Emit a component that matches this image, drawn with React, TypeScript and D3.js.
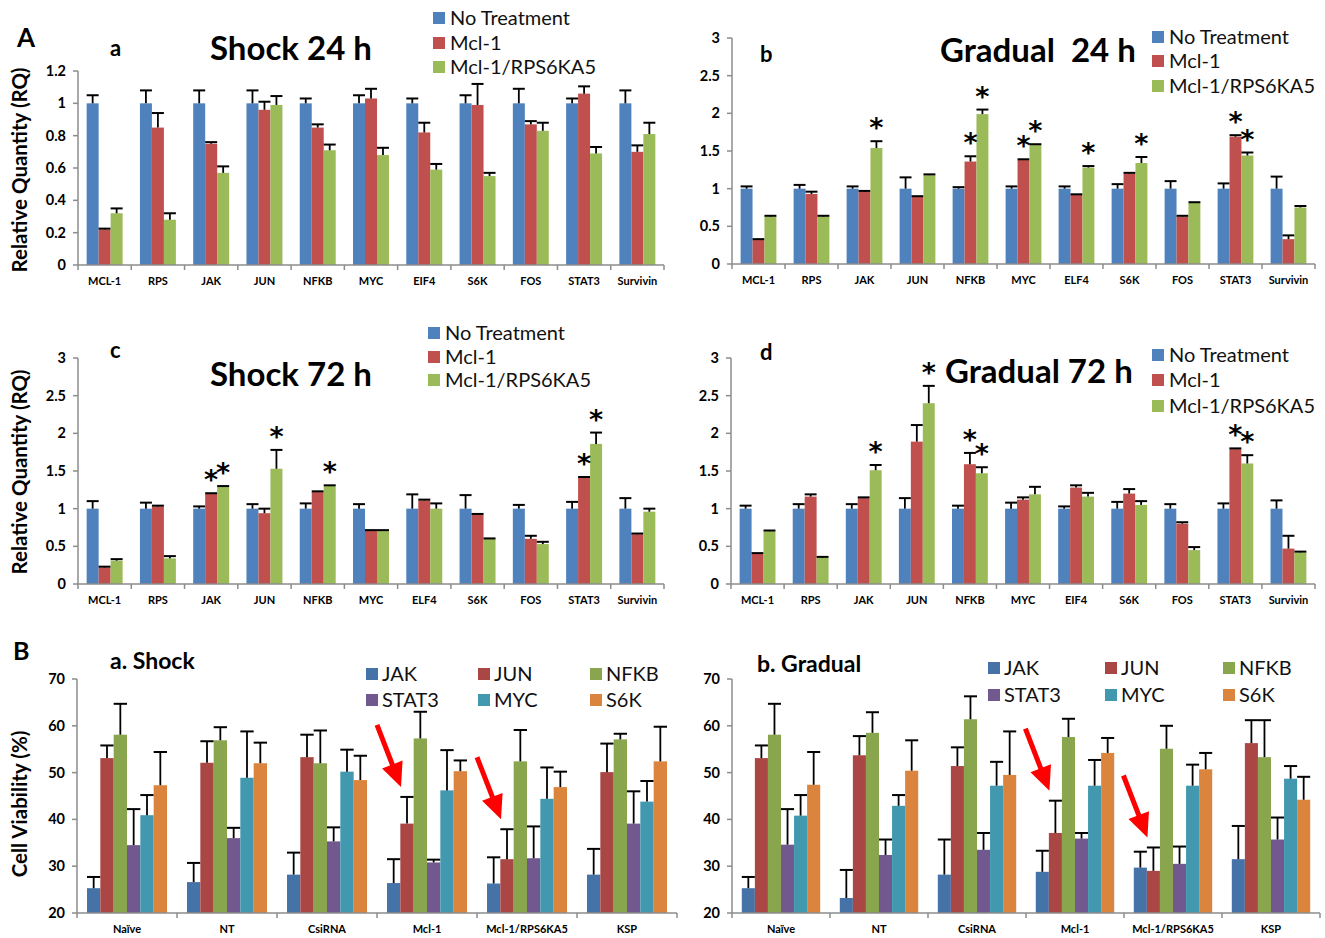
import * as d3 from 'd3';

const FONT = 'Lato, "Open Sans", sans-serif';

// ---- Part A: qPCR relative quantity ----
const genesA1 = ['MCL-1', 'RPS', 'JAK', 'JUN', 'NFKB', 'MYC', 'EIF4', 'S6K', 'FOS', 'STAT3', 'Survivin'];
const genesA2 = ['MCL-1', 'RPS', 'JAK', 'JUN', 'NFKB', 'MYC', 'ELF4', 'S6K', 'FOS', 'STAT3', 'Survivin'];
const treatments = ['No Treatment', 'Mcl-1', 'Mcl-1/RPS6KA5'];
const colorsA = ['#4F81BD', '#C0504D', '#9BBB59'];

const shock24NoTx = [1, 1, 1, 1, 1, 1, 1, 1, 1, 1, 1];
const shock24NoTxErr = [0.05, 0.08, 0.08, 0.08, 0.03, 0.05, 0.03, 0.05, 0.09, 0.03, 0.08];
const shock24Mcl1 = [0.22, 0.85, 0.75, 0.96, 0.85, 1.03, 0.82, 0.99, 0.87, 1.06, 0.7];
const shock24Mcl1Err = [0.005, 0.09, 0.01, 0.05, 0.02, 0.06, 0.06, 0.13, 0.02, 0.045, 0.04];
const shock24Rps = [0.32, 0.28, 0.57, 0.99, 0.71, 0.68, 0.59, 0.55, 0.83, 0.69, 0.81];
const shock24RpsErr = [0.03, 0.04, 0.04, 0.055, 0.035, 0.045, 0.035, 0.02, 0.05, 0.04, 0.07];

const grad24NoTx = [1, 1, 1, 1, 1, 1, 1, 1, 1, 1, 1];
const grad24NoTxErr = [0.03, 0.05, 0.03, 0.15, 0.02, 0.03, 0.03, 0.06, 0.1, 0.07, 0.16];
const grad24Mcl1 = [0.32, 0.93, 0.96, 0.89, 1.36, 1.38, 0.92, 1.2, 0.63, 1.69, 0.33];
const grad24Mcl1Err = [0.01, 0.03, 0.01, 0.01, 0.07, 0.01, 0.005, 0.01, 0.01, 0.02, 0.05];
const grad24Rps = [0.63, 0.63, 1.54, 1.18, 1.99, 1.58, 1.28, 1.34, 0.81, 1.44, 0.75];
const grad24RpsErr = [0.01, 0.01, 0.09, 0.01, 0.06, 0.01, 0.02, 0.08, 0.01, 0.04, 0.02];
const grad24Stars = [['JAK', 2], ['NFKB', 1], ['NFKB', 2], ['MYC', 1], ['MYC', 2], ['ELF4', 2], ['S6K', 2], ['STAT3', 1], ['STAT3', 2]];

const shock72NoTx = [1, 1, 1, 1, 1, 1, 1, 1, 1, 1, 1];
const shock72NoTxErr = [0.1, 0.08, 0.03, 0.06, 0.07, 0.06, 0.19, 0.18, 0.05, 0.09, 0.14];
const shock72Mcl1 = [0.22, 1.03, 1.2, 0.94, 1.22, 0.71, 1.11, 0.92, 0.6, 1.41, 0.66];
const shock72Mcl1Err = [0.01, 0.01, 0.005, 0.06, 0.01, 0.005, 0.01, 0.01, 0.04, 0.01, 0.01];
const shock72Rps = [0.31, 0.34, 1.29, 1.53, 1.3, 0.71, 1.0, 0.6, 0.53, 1.86, 0.96];
const shock72RpsErr = [0.02, 0.03, 0.01, 0.25, 0.01, 0.005, 0.07, 0.005, 0.03, 0.15, 0.04];
const shock72Stars = [['JAK', 1], ['JAK', 2], ['JUN', 2], ['NFKB', 2], ['STAT3', 1], ['STAT3', 2]];

const grad72NoTx = [1, 1, 1, 1, 1, 1, 1, 1, 1, 1, 1];
const grad72NoTxErr = [0.04, 0.06, 0.06, 0.14, 0.04, 0.08, 0.03, 0.09, 0.06, 0.07, 0.11];
const grad72Mcl1 = [0.4, 1.16, 1.14, 1.89, 1.59, 1.12, 1.28, 1.2, 0.8, 1.79, 0.47];
const grad72Mcl1Err = [0.01, 0.03, 0.01, 0.22, 0.15, 0.03, 0.03, 0.06, 0.02, 0.01, 0.17];
const grad72Rps = [0.7, 0.35, 1.51, 2.4, 1.47, 1.19, 1.16, 1.05, 0.45, 1.6, 0.42];
const grad72RpsErr = [0.01, 0.01, 0.07, 0.23, 0.08, 0.1, 0.05, 0.05, 0.04, 0.11, 0.01];
const grad72Stars = [['JAK', 2], ['JUN', 2], ['NFKB', 1], ['NFKB', 2], ['STAT3', 1], ['STAT3', 2]];

const ticksA12 = [0, 0.2, 0.4, 0.6, 0.8, 1, 1.2];
const ticksA3 = [0, 0.5, 1, 1.5, 2, 2.5, 3];

// ---- Part B: cell viability ----
const groupsB = ['Naïve', 'NT', 'CsiRNA', 'Mcl-1', 'Mcl-1/RPS6KA5', 'KSP'];
const genesB = ['JAK', 'JUN', 'NFKB', 'STAT3', 'MYC', 'S6K'];
const colorsB = ['#4572A7', '#AA4643', '#89A54E', '#71588F', '#4198AF', '#DB843D'];

const shockJak = [25.3, 26.6, 28.2, 26.4, 26.3, 28.2];
const shockJakErr = [2.4, 4.1, 4.7, 5.1, 5.6, 5.5];
const shockJun = [53.1, 52.1, 53.3, 39.1, 31.5, 50.1];
const shockJunErr = [2.7, 4.6, 4.8, 5.7, 6.4, 6.1];
const shockNfkb = [58.1, 56.9, 52.0, 57.3, 52.4, 57.1];
const shockNfkbErr = [6.6, 2.8, 7.0, 5.7, 6.7, 1.2];
const shockStat3 = [34.5, 36.0, 35.3, 30.8, 31.7, 39.1];
const shockStat3Err = [7.7, 2.2, 3.0, 0.6, 6.8, 6.9];
const shockMyc = [40.9, 48.9, 50.2, 46.2, 44.4, 43.8];
const shockMycErr = [4.3, 9.9, 4.7, 8.6, 6.7, 4.4];
const shockS6k = [47.3, 52.0, 48.4, 50.3, 46.9, 52.4];
const shockS6kErr = [7.1, 4.4, 5.2, 2.3, 3.3, 7.4];

const gradJak = [25.3, 23.2, 28.2, 28.8, 29.7, 31.5];
const gradJakErr = [2.4, 6.0, 7.5, 4.5, 3.4, 7.1];
const gradJun = [53.1, 53.7, 51.4, 37.1, 29.0, 56.3];
const gradJunErr = [2.7, 4.1, 4.0, 6.9, 5.0, 4.9];
const gradNfkb = [58.1, 58.5, 61.4, 57.6, 55.1, 53.3];
const gradNfkbErr = [6.6, 4.4, 4.9, 3.9, 4.9, 7.9];
const gradStat3 = [34.6, 32.4, 33.5, 35.9, 30.5, 35.7];
const gradStat3Err = [7.6, 3.3, 3.6, 1.2, 3.7, 4.7];
const gradMyc = [40.8, 42.9, 47.2, 47.2, 47.2, 48.7];
const gradMycErr = [4.4, 2.3, 5.1, 5.5, 4.5, 2.7];
const gradS6k = [47.4, 50.4, 49.5, 54.2, 50.7, 44.2];
const gradS6kErr = [7.0, 6.5, 9.3, 3.2, 3.5, 4.9];

const ticksB = [20, 30, 40, 50, 60, 70];
const arrowGroups = ['Mcl-1', 'Mcl-1/RPS6KA5'];

type PanelProps = {
  cats: string[];
  series: string[];
  colors: string[];
  values: number[][];
  errors: number[][];
  x0: number;
  x1: number;
  yBottom: number;
  yTop: number;
  domain: [number, number];
  ticks: number[];
  pad: number;
  labelSize: number;
  stars?: (string | number)[][];
  arrows?: string[];
};

function Arrow({ tx, ty, sx, sy }: { tx: number; ty: number; sx: number; sy: number }) {
  const dx = tx - sx;
  const dy = ty - sy;
  const len = Math.sqrt(dx * dx + dy * dy);
  const ux = dx / len;
  const uy = dy / len;
  const headLen = 24;
  const headW = 11;
  const bx = tx - ux * headLen;
  const by = ty - uy * headLen;
  const px = -uy;
  const py = ux;
  return (
    <g>
      <line x1={sx} y1={sy} x2={bx + ux * 2} y2={by + uy * 2} stroke="#FF0000" strokeWidth={5} />
      <path
        d={`M${tx},${ty}L${bx + px * headW},${by + py * headW}L${bx - px * headW},${by - py * headW}Z`}
        fill="#FF0000"
      />
    </g>
  );
}

function BarPanel(p: PanelProps) {
  const x = d3.scaleBand<string>().domain(p.cats).range([p.x0, p.x1]).paddingInner(p.pad).paddingOuter(p.pad / 2);
  const xs = d3.scaleBand<string>().domain(p.series).range([0, x.bandwidth()]);
  const y = d3.scaleLinear().domain(p.domain).range([p.yBottom, p.yTop]);
  const step = x.step();
  const bw = xs.bandwidth();
  const axisColor = '#8C8C8C';
  const fmt = (t: number) => String(+t.toFixed(1));
  return (
    <g>
      {p.cats.map((c, ci) => (
        <g key={c}>
          {p.series.map((s, si) => {
            const v = p.values[si][ci];
            const e = p.errors[si][ci];
            const bx = (x(c) as number) + (xs(s) as number);
            const cx = bx + bw / 2;
            return (
              <g key={s}>
                <rect x={bx} y={y(v)} width={bw} height={y(p.domain[0]) - y(v)} fill={p.colors[si]} />
                <line x1={cx} x2={cx} y1={y(v)} y2={y(v + e)} stroke="#000" strokeWidth={1.8} />
                <line x1={bx} x2={bx + bw} y1={y(v + e)} y2={y(v + e)} stroke="#000" strokeWidth={2} />
              </g>
            );
          })}
          <text
            x={(x(c) as number) + x.bandwidth() / 2}
            y={p.yBottom + 20}
            textAnchor="middle"
            fontFamily={FONT}
            fontWeight="bold"
            fontSize={p.labelSize}
          >
            {c}
          </text>
        </g>
      ))}
      {/* axes */}
      <line x1={p.x0} x2={p.x0} y1={p.yBottom} y2={p.yTop} stroke={axisColor} strokeWidth={1.5} />
      <line x1={p.x0} x2={p.x1} y1={p.yBottom} y2={p.yBottom} stroke={axisColor} strokeWidth={1.5} />
      {p.cats.map((c, i) => (
        <line key={'tk' + c} x1={p.x0 + step * (i + 1)} x2={p.x0 + step * (i + 1)} y1={p.yBottom} y2={p.yBottom + 5} stroke={axisColor} strokeWidth={1.5} />
      ))}
      <line x1={p.x0} x2={p.x0} y1={p.yBottom} y2={p.yBottom + 5} stroke={axisColor} strokeWidth={1.5} />
      {p.ticks.map((t) => (
        <g key={'yt' + t}>
          <line x1={p.x0 - 5} x2={p.x0} y1={y(t)} y2={y(t)} stroke={axisColor} strokeWidth={1.5} />
          <text x={p.x0 - 12} y={y(t) + 5} textAnchor="end" fontFamily={FONT} fontWeight="bold" fontSize={14.5}>
            {fmt(t)}
          </text>
        </g>
      ))}
      {(p.stars || []).map(([c, si], i) => {
        const ci = p.cats.indexOf(c as string);
        const s = p.series[si as number];
        const cx = (x(c as string) as number) + (xs(s) as number) + bw / 2;
        const top = y(p.values[si as number][ci] + p.errors[si as number][ci]);
        return (
          <text
            key={'st' + i}
            x={cx}
            y={top - 4}
            textAnchor="middle"
            fontFamily='"DejaVu Sans", sans-serif'
            fontWeight="bold"
            fontSize={27}
          >
            *
          </text>
        );
      })}
      {(p.arrows || []).map((g) => {
        const ci = p.cats.indexOf(g);
        const s = p.series[1];
        const cx = (x(g) as number) + (xs(s) as number) + bw / 2 - 6;
        const top = y(p.values[1][ci] + p.errors[1][ci]) - 10;
        return <Arrow key={'ar' + g} tx={cx} ty={top} sx={cx - 24} sy={top - 62} />;
      })}
    </g>
  );
}

function LegendA({ x, ys }: { x: number; ys: number[] }) {
  return (
    <g>
      {treatments.map((t, i) => (
        <g key={t}>
          <rect x={x} y={ys[i] - 6} width={12} height={12} fill={colorsA[i]} />
          <text x={x + 17} y={ys[i] + 7} fontFamily={FONT} fontSize={20} fill="#111">
            {t}
          </text>
        </g>
      ))}
    </g>
  );
}

function LegendB({ xs, ys }: { xs: number[]; ys: number[] }) {
  return (
    <g>
      {genesB.map((g, i) => {
        const col = i % 3;
        const row = Math.floor(i / 3);
        return (
          <g key={g}>
            <rect x={xs[col]} y={ys[row] - 6} width={12} height={12} fill={colorsB[i]} />
            <text x={xs[col] + 16} y={ys[row] + 7} fontFamily={FONT} fontSize={20} fill="#111">
              {g}
            </text>
          </g>
        );
      })}
    </g>
  );
}

const txt = (x: number, y: number, s: string, size: number, bold = true, extra: any = {}) => (
  <text x={x} y={y} fontFamily={FONT} fontWeight={bold ? 'bold' : 'normal'} fontSize={size} style={{ whiteSpace: 'pre' }} {...extra}>
    {s}
  </text>
);

export default function App() {
  return (
    <svg
      width={1325}
      height={938}
      style={{ position: 'absolute', left: 0, top: 0, background: '#fff' }}
    >
      {/* A a */}
      {txt(17, 47, 'A', 26)}
      {txt(110, 56, 'a', 22)}
      {txt(210, 60, 'Shock 24 h', 33)}
      <LegendA x={433} ys={[18, 43, 67]} />
      {txt(0, 0, 'Relative Quantity (RQ)', 20.5, true, { transform: 'translate(27,170) rotate(-90)', textAnchor: 'middle' })}
      <BarPanel
        cats={genesA1}
        series={treatments}
        colors={colorsA}
        values={[shock24NoTx, shock24Mcl1, shock24Rps]}
        errors={[shock24NoTxErr, shock24Mcl1Err, shock24RpsErr]}
        x0={78}
        x1={664}
        yBottom={265}
        yTop={71}
        domain={[0, 1.2]}
        ticks={ticksA12}
        pad={0.325}
        labelSize={11}
      />
      {/* A b */}
      {txt(760, 62, 'b', 22)}
      {txt(940, 62, 'Gradual  24 h', 33)}
      <LegendA x={1152} ys={[37, 61, 86]} />
      <BarPanel
        cats={genesA2}
        series={treatments}
        colors={colorsA}
        values={[grad24NoTx, grad24Mcl1, grad24Rps]}
        errors={[grad24NoTxErr, grad24Mcl1Err, grad24RpsErr]}
        x0={732}
        x1={1315}
        yBottom={264}
        yTop={38}
        domain={[0, 3]}
        ticks={ticksA3}
        pad={0.325}
        labelSize={11}
        stars={grad24Stars}
      />
      {/* A c */}
      {txt(110, 358, 'c', 22)}
      {txt(210, 386, 'Shock 72 h', 33)}
      <LegendA x={428} ys={[333, 357, 380]} />
      {txt(0, 0, 'Relative Quantity (RQ)', 20.5, true, { transform: 'translate(27,472) rotate(-90)', textAnchor: 'middle' })}
      <BarPanel
        cats={genesA2}
        series={treatments}
        colors={colorsA}
        values={[shock72NoTx, shock72Mcl1, shock72Rps]}
        errors={[shock72NoTxErr, shock72Mcl1Err, shock72RpsErr]}
        x0={78}
        x1={664}
        yBottom={584}
        yTop={358}
        domain={[0, 3]}
        ticks={ticksA3}
        pad={0.325}
        labelSize={11}
        stars={shock72Stars}
      />
      {/* A d */}
      {txt(760, 360, 'd', 22)}
      {txt(945, 383, 'Gradual 72 h', 33)}
      <LegendA x={1152} ys={[355, 380, 406]} />
      <BarPanel
        cats={genesA1}
        series={treatments}
        colors={colorsA}
        values={[grad72NoTx, grad72Mcl1, grad72Rps]}
        errors={[grad72NoTxErr, grad72Mcl1Err, grad72RpsErr]}
        x0={731}
        x1={1315}
        yBottom={584}
        yTop={358}
        domain={[0, 3]}
        ticks={ticksA3}
        pad={0.325}
        labelSize={11}
        stars={grad72Stars}
      />
      {/* B a */}
      {txt(13, 660, 'B', 25)}
      {txt(110, 669, 'a. Shock', 23)}
      <LegendB xs={[366, 478, 590]} ys={[674, 700]} />
      {txt(0, 0, 'Cell Viability (%)', 20.5, true, { transform: 'translate(27,804) rotate(-90)', textAnchor: 'middle' })}
      <BarPanel
        cats={groupsB}
        series={genesB}
        colors={colorsB}
        values={[shockJak, shockJun, shockNfkb, shockStat3, shockMyc, shockS6k]}
        errors={[shockJakErr, shockJunErr, shockNfkbErr, shockStat3Err, shockMycErr, shockS6kErr]}
        x0={77}
        x1={677}
        yBottom={913}
        yTop={679}
        domain={[20, 70]}
        ticks={ticksB}
        pad={0.2}
        labelSize={11}
        arrows={arrowGroups}
      />
      {/* B b */}
      {txt(757, 672, 'b. Gradual', 23)}
      <LegendB xs={[988, 1105, 1223]} ys={[668, 695]} />
      <BarPanel
        cats={groupsB}
        series={genesB}
        colors={colorsB}
        values={[gradJak, gradJun, gradNfkb, gradStat3, gradMyc, gradS6k]}
        errors={[gradJakErr, gradJunErr, gradNfkbErr, gradStat3Err, gradMycErr, gradS6kErr]}
        x0={732}
        x1={1320}
        yBottom={913}
        yTop={679}
        domain={[20, 70]}
        ticks={ticksB}
        pad={0.2}
        labelSize={11}
        arrows={arrowGroups}
      />
    </svg>
  );
}
